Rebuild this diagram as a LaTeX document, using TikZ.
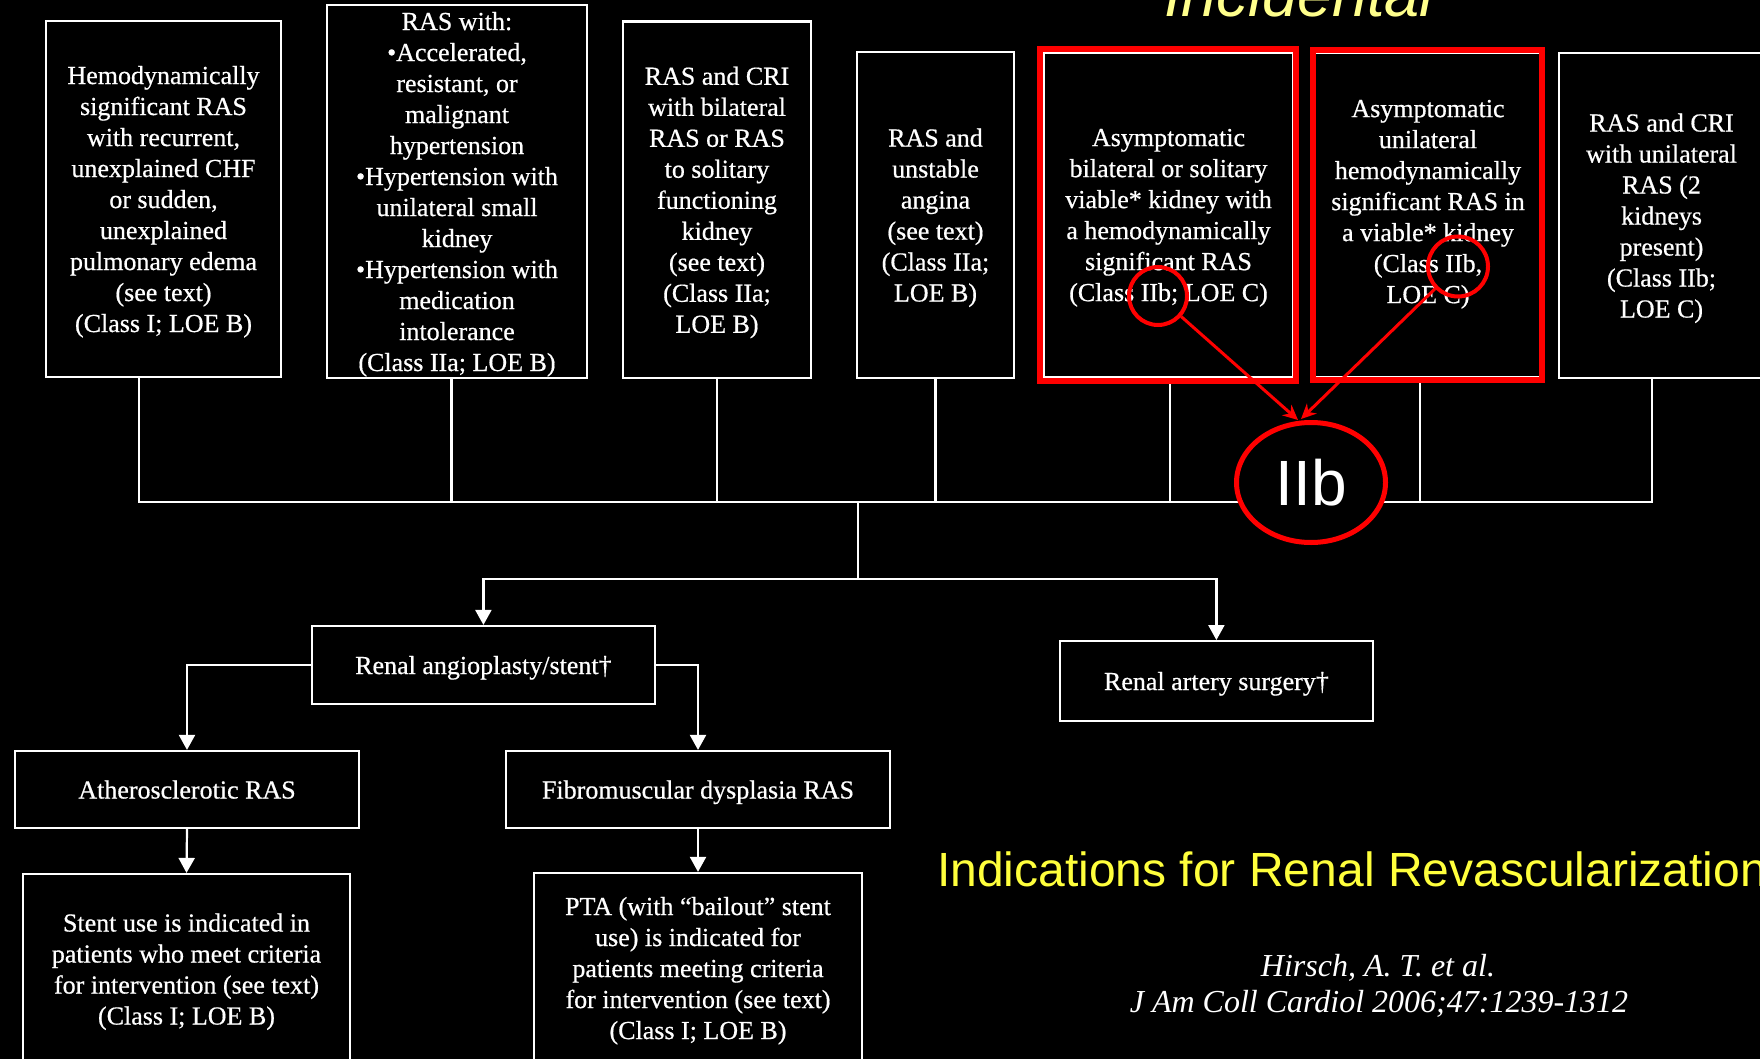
\documentclass[tikz,border=0pt]{standalone}
\usepackage{fontspec}
\setmainfont{Liberation Serif}[FakeBold=0.6]
\newfontfamily\citef{Liberation Serif}
\newfontfamily\arialf{Liberation Sans}
\usetikzlibrary{arrows.meta,shapes.geometric}
\definecolor{ylw}{RGB}{255,255,60}
\definecolor{ylwpale}{RGB}{255,255,140}
\begin{document}
\begin{tikzpicture}[x=1pt,y=-1pt,
  box/.style={draw=white, line width=2.2pt, text=white, align=center, inner sep=0pt, text depth=0pt, font=\fontsize{26}{31}\selectfont},
  txt/.style={text=white, align=center, inner sep=0pt, text depth=0pt, font=\fontsize{26}{31}\selectfont},
  conn/.style={draw=white, line width=2.2pt},
  arr/.style={conn, -{Triangle[width=16pt,length=15pt]}},
  redbox/.style={draw=red, line width=6pt},
  redring/.style={draw=red, line width=4pt, circle, inner sep=0pt},
  redarr/.style={draw=red, line width=3pt, -{Stealth[length=15pt,width=14pt]}},
]
\fill[black] (0,0) rectangle (1760,1059);
\useasboundingbox (0,0) rectangle (1760,1059);

% top row
\node[box, minimum width=235pt, minimum height=356pt] (b1) at (163.5,199)
 {Hemodynamically\\significant RAS\\with recurrent,\\unexplained CHF\\or sudden,\\unexplained\\pulmonary edema\\(see text)\\(Class I; LOE B)};
\node[box, minimum width=260pt, minimum height=373pt] (b2) at (457,191.5)
 {RAS with:\\•Accelerated,\\resistant, or\\malignant\\hypertension\\•Hypertension with\\unilateral small\\kidney\\•Hypertension with\\medication\\intolerance\\(Class IIa; LOE B)};
\node[box, minimum width=187.5pt, minimum height=356.5pt] (b3) at (717,199.75)
 {RAS and CRI\\with bilateral\\RAS or RAS\\to solitary\\functioning\\kidney\\(see text)\\(Class IIa;\\LOE B)};
\node[box, minimum width=157pt, minimum height=326pt] (b4) at (935.5,215)
 {RAS and\\unstable\\angina\\(see text)\\(Class IIa;\\LOE B)};
\node[box, minimum width=249pt, minimum height=324pt] (b5) at (1168.5,215)
 {Asymptomatic\\bilateral or solitary\\viable* kidney with\\a hemodynamically\\significant RAS\\(Class IIb; LOE C)};
\node[box, minimum width=226pt, minimum height=324pt] (b6) at (1428,215) {};
\node[txt] (b6t) at (1428,201.5)
 {Asymptomatic\\unilateral\\hemodynamically\\significant RAS in\\a viable* kidney\\(Class IIb,\\LOE C)};
\node[box, minimum width=205pt, minimum height=325pt] (b7) at (1661.5,215.5)
 {RAS and CRI\\with unilateral\\RAS (2\\kidneys\\present)\\(Class IIb;\\LOE C)};

% lower boxes
\node[box, minimum width=343pt, minimum height=78pt] (ang) at (483.4,665) {Renal angioplasty/stent†};
\node[box, minimum width=312.7pt, minimum height=79.7pt] (surg) at (1216.4,681) {Renal artery surgery†};
\node[box, minimum width=344pt, minimum height=77pt] (ath) at (187,789.5) {Atherosclerotic RAS};
\node[box, minimum width=384pt, minimum height=77pt] (fib) at (698,789.5) {Fibromuscular dysplasia RAS};
\node[box, minimum width=327pt, minimum height=190pt] (stent) at (186.5,969)
 {Stent use is indicated in\\patients who meet criteria\\for intervention (see text)\\(Class I; LOE B)};
\node[box, minimum width=328pt, minimum height=190pt] (pta) at (698,968)
 {PTA (with “bailout” stent\\use) is indicated for\\patients meeting criteria\\for intervention (see text)\\(Class I; LOE B)};

% bus connectors
\coordinate (busL) at (139,502);
\coordinate (busR) at (1652,502);
\coordinate (tr) at (858,502);
\coordinate (tr2) at (858,579);
\draw[conn] (b1.south -| busL) -- (busL) -- (busR) -- (b7.south -| busR);
\draw[conn] ([xshift=-5.5pt]b2.south) -- ([xshift=-5.5pt]b2.south |- busL);
\draw[conn] (b3.south) -- (b3.south |- busL);
\draw[conn] (b4.south) -- (b4.south |- busL);
\draw[conn] ([xshift=1.5pt]b5.south) -- ([xshift=1.5pt]b5.south |- busL);
\draw[conn] ([xshift=-8pt]b6.south) -- ([xshift=-8pt]b6.south |- busL);
\draw[conn] (tr) -- (tr2);
\draw[arr] (tr2) -| (ang.north);
\draw[arr] (tr2) -| (surg.north);
\draw[arr] (ang.west) -| (ath.north);
\draw[arr] (ang.east) -| (fib.north);
\draw[arr] (ath.south) -- (stent.north);
\draw[arr] (fib.south) -- (pta.north);

% red highlights
\draw[redbox] (1039.5,49.5) rectangle (1296,381);
\draw[redbox] (1313,50) rectangle (1541.5,379.5);
\node[redring, minimum size=58pt] (c1) at (1158,296) {};
\node[redring, minimum size=60pt] (c2) at (1458,266.5) {};
\node[ellipse, draw=red, line width=5pt, fill=black, minimum width=149pt, minimum height=120pt, inner sep=0pt,
      text=white, font=\arialf\fontsize{64}{70}\selectfont] (big) at (1311,482.5) {IIb};
\coordinate (tipA) at (1298,420);
\coordinate (tipB) at (1301,419);
\draw[redarr] (c1) -- (tipA);
\draw[redarr] (c2) -- (tipB);

% titles
\node[anchor=base, text=ylwpale, inner sep=0pt, font=\arialf\itshape\fontsize{63}{70}\selectfont] (inc) at (1299,17) {Incidental};
\node[anchor=base west, text=ylw, inner sep=0pt, font=\arialf\fontsize{48}{56}\selectfont] (title) at (937,886) {Indications for Renal Revascularization};
\node[anchor=base, text=white, inner sep=0pt, font=\citef\itshape\fontsize{32}{36}\selectfont] (cit1) at (1378,976) {Hirsch, A. T. et al.};
\node[anchor=base, text=white, inner sep=0pt, font=\citef\itshape\fontsize{32}{36}\selectfont] (cit2) at (1379,1012) {J Am Coll Cardiol 2006;47:1239-1312};
\end{tikzpicture}
\end{document}
